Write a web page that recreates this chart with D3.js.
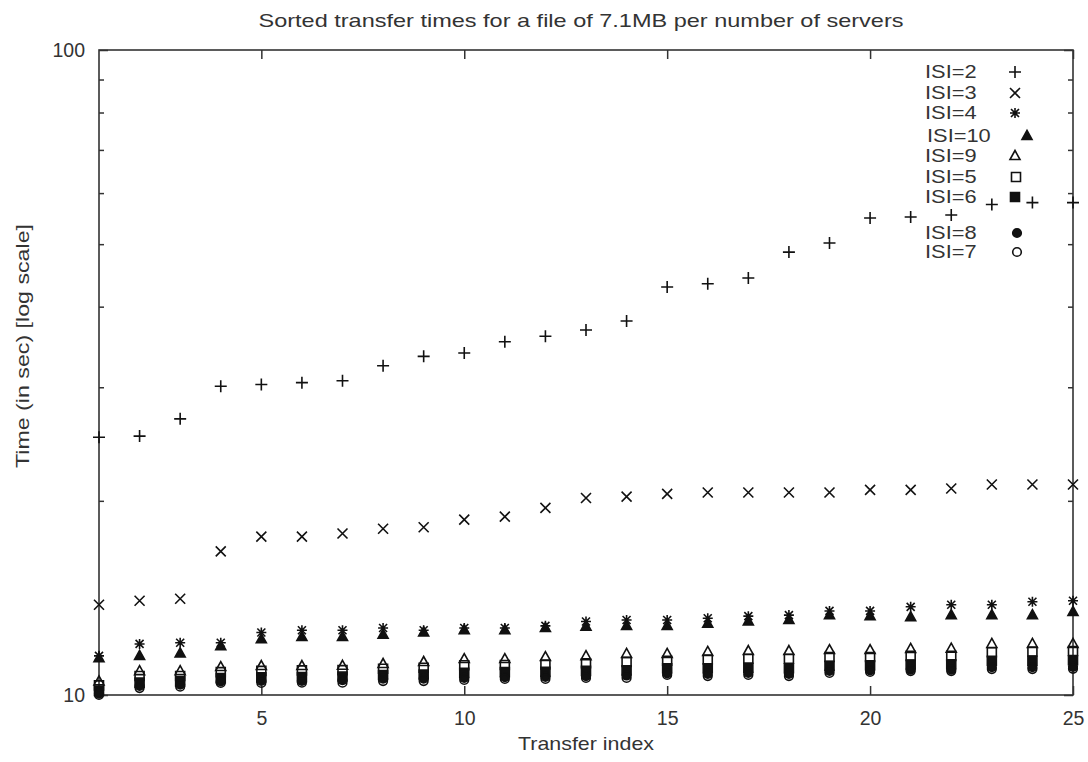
<!DOCTYPE html>
<html>
<head>
<meta charset="utf-8">
<script src="https://cdn.jsdelivr.net/npm/d3@7"></script>
<style>
  body { margin: 0; background: #fff; }
  text { font-family: "Liberation Sans", Arial, sans-serif; fill: #333; }
</style>
</head>
<body>
<div id="chart"></div>
<script>
// transfer index (x)
const transferIndex = [1,2,3,4,5,6,7,8,9,10,11,12,13,14,15,16,17,18,19,20,21,22,23,24,25];

// sorted transfer times per number of servers (seconds)
const isi2  = [25.1, 25.2, 26.8, 30.1, 30.3, 30.5, 30.7, 32.4, 33.5, 33.9, 35.3, 36.0, 36.8, 38.0, 42.9, 43.4, 44.3, 48.6, 50.2, 54.9, 55.1, 55.5, 57.6, 58.0, 58.0];
const isi3  = [13.8, 14.0, 14.1, 16.7, 17.6, 17.6, 17.8, 18.1, 18.2, 18.7, 18.9, 19.5, 20.2, 20.3, 20.5, 20.6, 20.6, 20.6, 20.6, 20.8, 20.8, 20.9, 21.2, 21.2, 21.2];
const isi4  = [11.5, 12.0, 12.05, 12.05, 12.5, 12.6, 12.6, 12.7, 12.6, 12.7, 12.7, 12.8, 13.0, 13.07, 13.07, 13.15, 13.25, 13.3, 13.5, 13.5, 13.7, 13.8, 13.8, 13.95, 14.0];
const isi10 = [11.4, 11.5, 11.6, 11.9, 12.2, 12.3, 12.3, 12.4, 12.5, 12.6, 12.6, 12.7, 12.76, 12.8, 12.8, 12.9, 13.0, 13.07, 13.3, 13.25, 13.2, 13.3, 13.3, 13.3, 13.45];
const isi9  = [10.5, 10.89, 10.89, 11.05, 11.09, 11.09, 11.1, 11.17, 11.25, 11.37, 11.37, 11.45, 11.49, 11.58, 11.58, 11.66, 11.7, 11.7, 11.74, 11.74, 11.79, 11.8, 12.0, 12.0, 12.0];
const isi5  = [10.35, 10.7, 10.7, 10.85, 10.9, 10.92, 10.93, 10.98, 11.02, 11.12, 11.13, 11.15, 11.2, 11.25, 11.3, 11.35, 11.38, 11.38, 11.45, 11.45, 11.5, 11.5, 11.65, 11.68, 11.7];
const isi6  = [10.15, 10.45, 10.5, 10.62, 10.65, 10.66, 10.68, 10.74, 10.76, 10.82, 10.85, 10.86, 10.9, 10.92, 11.0, 11.0, 11.02, 11.0, 11.1, 11.12, 11.15, 11.16, 11.3, 11.3, 11.32];
const isi8  = [10.05, 10.33, 10.38, 10.5, 10.52, 10.52, 10.54, 10.6, 10.6, 10.63, 10.66, 10.67, 10.7, 10.72, 10.8, 10.78, 10.82, 10.78, 10.9, 10.92, 10.95, 10.95, 11.05, 11.05, 11.06];
const isi7  = [10.0, 10.25, 10.3, 10.44, 10.44, 10.45, 10.45, 10.51, 10.51, 10.55, 10.59, 10.59, 10.63, 10.63, 10.74, 10.7, 10.74, 10.7, 10.82, 10.86, 10.89, 10.89, 10.97, 10.97, 10.98];

const seriesNames = ["ISI=2", "ISI=3", "ISI=4", "ISI=10", "ISI=9", "ISI=5", "ISI=6", "ISI=8", "ISI=7"];
const seriesValues = [isi2, isi3, isi4, isi10, isi9, isi5, isi6, isi8, isi7];
const seriesMarkers = ["plus", "cross", "star", "triFilled", "triOpen", "sqOpen", "sqFilled", "circFilled", "circOpen"];

const xTickValues = [5, 10, 15, 20, 25];
const yMajorTicks = [10, 100];
const yMinorTicks = [20, 30, 40, 50, 60, 70, 80, 90];

// set the dimensions and margins of the graph
const margin = {top: 50, right: 15, bottom: 67, left: 99},
    width = 1088 - margin.left - margin.right,
    height = 762 - margin.top - margin.bottom;

const root = d3.select("#chart")
    .append("svg")
    .attr("width", 1088)
    .attr("height", 762);

const svg = root.append("g")
    .attr("transform", `translate(${margin.left}, ${margin.top})`);

const x = d3.scaleLinear().domain([1, 25]).range([0, width]);
const y = d3.scaleLog().domain([10, 100]).range([height, 0]);

const axisColor = "#333";
const ink = "#111";

// y axis - majors with labels, minors without
svg.append("g")
    .call(d3.axisLeft(y).tickValues(yMajorTicks).tickSize(-9).tickPadding(14).tickFormat(d3.format("d")));
svg.append("g")
    .call(d3.axisLeft(y).tickValues(yMinorTicks).tickSize(-5).tickFormat(""));
svg.append("g").attr("transform", `translate(${width},0)`)
    .call(d3.axisRight(y).tickValues(yMajorTicks).tickSize(-9).tickFormat(""));
svg.append("g").attr("transform", `translate(${width},0)`)
    .call(d3.axisRight(y).tickValues(yMinorTicks).tickSize(-5).tickFormat(""));

// x axis
svg.append("g").attr("transform", `translate(0,${height})`)
    .call(d3.axisBottom(x).tickValues(xTickValues).tickSize(-9).tickPadding(16).tickFormat(d3.format("d")));
svg.append("g")
    .call(d3.axisTop(x).tickValues(xTickValues).tickSize(-9).tickFormat(""));

svg.selectAll(".domain").remove();
svg.selectAll(".tick line").attr("stroke", axisColor).attr("stroke-width", 1.5);
svg.selectAll(".tick text").style("font-size", "19.5px").attr("fill", axisColor);

// frame
svg.append("rect")
    .attr("width", width).attr("height", height)
    .attr("fill", "none").attr("stroke", axisColor).attr("stroke-width", 1.6);

// marker shapes
function markerPath(type) {
    switch (type) {
        case "plus": return "M-6,0H6M0,-6V6";
        case "cross": return "M-5,-5L5,5M-5,5L5,-5";
        case "star": return "M-5,0H5M0,-5V5M-4,-4L4,4M-4,4L4,-4";
        case "triFilled":
        case "triOpen": return "M0,-5.5L5,3.5L-5,3.5Z";
        case "sqFilled":
        case "sqOpen": return "M-4.5,-4.5H4.5V4.5H-4.5Z";
        case "circFilled":
        case "circOpen": return "M-4.3,0A4.3,4.3 0 1,0 4.3,0A4.3,4.3 0 1,0 -4.3,0Z";
    }
}
function isFilled(type) { return /Filled/.test(type); }

seriesValues.forEach(function(vals, i) {
    const type = seriesMarkers[i];
    svg.append("g")
        .selectAll("path")
        .data(vals)
        .join("path")
        .attr("transform", (d, j) => `translate(${x(transferIndex[j])},${y(d)})`)
        .attr("d", markerPath(type))
        .attr("fill", isFilled(type) ? ink : "none")
        .attr("stroke", ink)
        .attr("stroke-width", 1.6);
});

// legend
const legendRows = [72, 93, 113, 136, 156, 177, 197, 233, 252];
const legendSymX = [1015, 1015, 1015, 1027, 1015, 1016, 1015, 1017, 1017];
const legend = root.append("g");
seriesNames.forEach(function(name, i) {
    const t = legend.append("text")
        .attr("x", name === "ISI=10" ? 927 : 925)
        .attr("y", legendRows[i])
        .attr("dy", "0.35em")
        .style("font-size", "18.5px")
        .text(name);
    // the scan is a little wider than the font, stretch to match
    t.attr("textLength", t.node().getComputedTextLength() * 1.18)
        .attr("lengthAdjust", "spacingAndGlyphs");
    legend.append("path")
        .attr("transform", `translate(${legendSymX[i]},${legendRows[i]})`)
        .attr("d", markerPath(seriesMarkers[i]))
        .attr("fill", isFilled(seriesMarkers[i]) ? ink : "none")
        .attr("stroke", ink)
        .attr("stroke-width", 1.6);
});

// titles
root.append("text")
    .attr("x", 581).attr("y", 20).attr("dy", "0.35em")
    .attr("text-anchor", "middle")
    .style("font-size", "19px")
    .attr("textLength", 645).attr("lengthAdjust", "spacingAndGlyphs")
    .text("Sorted transfer times for a file of 7.1MB per number of servers");

root.append("text")
    .attr("x", margin.left + width / 2).attr("y", 743).attr("dy", "0.35em")
    .attr("text-anchor", "middle")
    .style("font-size", "19px")
    .attr("textLength", 136).attr("lengthAdjust", "spacingAndGlyphs")
    .text("Transfer index");

root.append("text")
    .attr("transform", "translate(22,346) rotate(-90)")
    .attr("dy", "0.35em")
    .attr("text-anchor", "middle")
    .style("font-size", "19px")
    .attr("textLength", 244).attr("lengthAdjust", "spacingAndGlyphs")
    .text("Time (in sec) [log scale]");
</script>
</body>
</html>
